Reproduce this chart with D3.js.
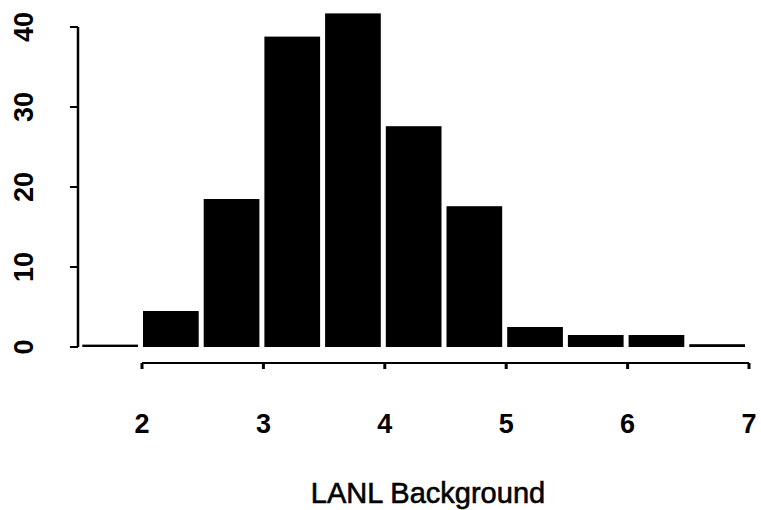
<!doctype html>
<html lang="en">
<head>
	<meta charset="UTF-8">
	<title>LANL Background histogram</title>
	<style>
		body { margin: 0; background: #fff; }
		svg { display: block; }
		.tick-label { font-family: "Liberation Sans", Arial, sans-serif; font-weight: bold; font-size: 27px; fill: #000; }
		.axis-title { font-family: "Liberation Sans", Arial, sans-serif; font-size: 29px; fill: #000; stroke: #000; stroke-width: 0.6px; }
	</style>
</head>
<body>
	<script src="https://cdn.jsdelivr.net/npm/d3@7"></script>
	<script>
		// histogram bins (left edges) and counts
		var binStarts = [1.5, 2, 2.5, 3, 3.5, 4, 4.5, 5, 5.5, 6, 6.5];
		var binCounts = [0.3, 4.5, 18.5, 38.8, 41.7, 27.6, 17.6, 2.5, 1.5, 1.5, 0.35];
		var binWidth = 0.5;
		var xTicks = [2, 3, 4, 5, 6, 7];
		var yTicks = [0, 10, 20, 30, 40];
		var xTitle = 'LANL Background';

		var w = 761,
			h = 510;

		var svg = d3.select('body')
			.append('svg')
			.attr('width', w)
			.attr('height', h);

		var xScale = d3.scaleLinear()
			.domain([2, 7])
			.range([142, 749]);

		var yScale = d3.scaleLinear()
			.domain([0, 40])
			.range([347, 27]);

		var bins = binStarts.map(function(s, i) {
			return { x0: s, x1: s + binWidth, n: binCounts[i] };
		});

		// bars
		svg.selectAll('rect.bar')
			.data(bins)
			.enter()
			.append('rect')
			.attr('class', 'bar')
			.attr('x', function(d) { return xScale(d.x0) + 1; })
			.attr('y', function(d) { return yScale(d.n); })
			.attr('width', function(d) { return xScale(d.x1) - xScale(d.x0) - 5; })
			.attr('height', function(d) { return yScale(0) - yScale(d.n); })
			.attr('fill', '#000');

		// y axis, drawn R-style with rotated labels
		var yAxis = svg.append('g');
		yAxis.append('line')
			.attr('x1', 78).attr('x2', 78)
			.attr('y1', yScale(0)).attr('y2', yScale(40))
			.attr('stroke', '#000').attr('stroke-width', 2.5);
		yAxis.selectAll('line.tick')
			.data(yTicks)
			.enter()
			.append('line')
			.attr('class', 'tick')
			.attr('x1', 70).attr('x2', 78)
			.attr('y1', function(d) { return yScale(d); })
			.attr('y2', function(d) { return yScale(d); })
			.attr('stroke', '#000').attr('stroke-width', 2);
		yAxis.selectAll('text')
			.data(yTicks)
			.enter()
			.append('text')
			.attr('class', 'tick-label')
			.attr('text-anchor', 'middle')
			.attr('transform', function(d) {
				return 'translate(33,' + yScale(d) + ') rotate(-90)';
			})
			.text(function(d) { return d; });

		// x axis
		var xAxis = svg.append('g');
		xAxis.append('line')
			.attr('x1', xScale(2)).attr('x2', xScale(7))
			.attr('y1', 363).attr('y2', 363)
			.attr('stroke', '#000').attr('stroke-width', 2);
		xAxis.selectAll('line.tick')
			.data(xTicks)
			.enter()
			.append('line')
			.attr('class', 'tick')
			.attr('x1', function(d) { return xScale(d); })
			.attr('x2', function(d) { return xScale(d); })
			.attr('y1', 363).attr('y2', 369)
			.attr('stroke', '#000').attr('stroke-width', 3);
		xAxis.selectAll('text')
			.data(xTicks)
			.enter()
			.append('text')
			.attr('class', 'tick-label')
			.attr('text-anchor', 'middle')
			.attr('x', function(d) { return xScale(d); })
			.attr('y', 433)
			.text(function(d) { return d; });

		svg.append('text')
			.attr('class', 'axis-title')
			.attr('text-anchor', 'middle')
			.attr('x', 428)
			.attr('y', 503)
			.text(xTitle);
	</script>
</body>
</html>
